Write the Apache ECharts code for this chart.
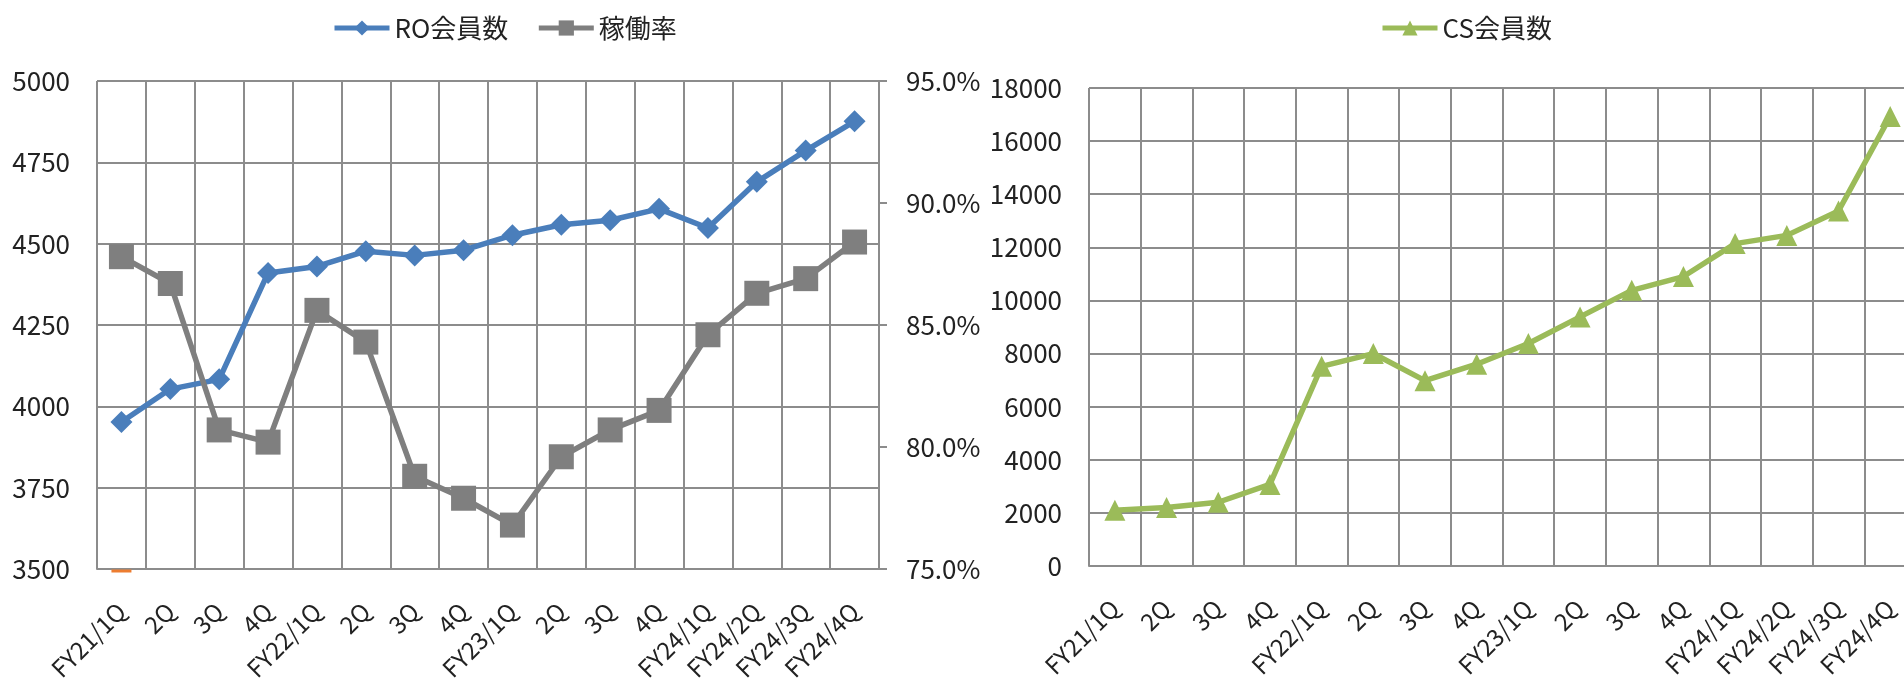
<!DOCTYPE html>
<html>
<head>
<meta charset="utf-8">
<script src="https://cdn.jsdelivr.net/npm/echarts@6/dist/echarts.min.js"></script>
<style>
  html, body { margin: 0; padding: 0; background: #fff; }
  #chart { width: 1904px; height: 680px; }
</style>
</head>
<body>
<div id="chart"></div>
<script>
const quarters = ['FY21/1Q', '2Q', '3Q', '4Q', 'FY22/1Q', '2Q', '3Q', '4Q', 'FY23/1Q', '2Q', '3Q', '4Q', 'FY24/1Q', 'FY24/2Q', 'FY24/3Q', 'FY24/4Q'];
const roMembers = [3952, 4053, 4083, 4410, 4430, 4477, 4464, 4480, 4526, 4558, 4572, 4607, 4548, 4690, 4786, 4876];
const utilization = [87.8, 86.7, 80.7, 80.2, 85.6, 84.3, 78.8, 77.9, 76.8, 79.6, 80.7, 81.5, 84.6, 86.3, 86.9, 88.4];
const csMembers = [2100, 2200, 2400, 3070, 7520, 8000, 6980, 7600, 8380, 9380, 10380, 10900, 12140, 12450, 13370, 16930];
// stray orange marker sitting on the baseline of the left chart
const strayMarker = [3500];

const font = "'Noto Sans CJK JP', 'Noto Sans', sans-serif";
const gridColor = '#8c8c8c';
const textColor = '#222';

const xAxisBase = {
  type: 'category',
  data: quarters,
  boundaryGap: true,
  axisTick: { show: false },
  axisLine: { lineStyle: { color: gridColor, width: 2 } },
  splitLine: { show: true, lineStyle: { color: gridColor, width: 2 } },
  axisLabel: { interval: 0, rotate: 45, margin: 38, fontSize: 24, fontFamily: font, color: textColor }
};

const legendBase = {
  top: 10,
  itemWidth: 55,
  itemHeight: 19,
  itemGap: 28,
  lineStyle: { width: 5 },
  textStyle: { fontSize: 26, fontFamily: font, color: textColor }
};

const plainNumber = v => String(v);

const chart = echarts.init(document.getElementById('chart'));

chart.setOption({
  animation: false,
  textStyle: { fontFamily: font, color: textColor },
  legend: [
    Object.assign({}, legendBase, { data: ['RO会員数', '稼働率'], left: 327 }),
    Object.assign({}, legendBase, { data: ['CS会員数'], left: 1375 })
  ],
  grid: [
    { left: 97, top: 81, width: 782, height: 488, outerBoundsMode: 'none', containLabel: false },
    { left: 1089, top: 88, width: 827, height: 478, outerBoundsMode: 'none', containLabel: false }
  ],
  xAxis: [
    Object.assign({}, xAxisBase, { gridIndex: 0 }),
    Object.assign({}, xAxisBase, { gridIndex: 1 })
  ],
  yAxis: [
    {
      type: 'value',
      gridIndex: 0,
      min: 3500,
      max: 5000,
      interval: 250,
      axisLine: { show: false },
      axisTick: { show: false },
      splitLine: { lineStyle: { color: gridColor, width: 2 } },
      axisLabel: { fontSize: 26, margin: 27, color: textColor, fontFamily: font, formatter: plainNumber }
    },
    {
      type: 'value',
      gridIndex: 0,
      position: 'right',
      min: 75,
      max: 95,
      interval: 5,
      axisLine: { show: true, lineStyle: { color: gridColor, width: 2 } },
      axisTick: { show: true, length: 8, lineStyle: { color: gridColor, width: 2 } },
      splitLine: { show: false },
      axisLabel: {
        fontSize: 26,
        margin: 27,
        color: textColor,
        fontFamily: font,
        formatter: v => v.toFixed(1) + '%'
      }
    },
    {
      type: 'value',
      gridIndex: 1,
      min: 0,
      max: 18000,
      interval: 2000,
      axisLine: { show: false },
      axisTick: { show: false },
      splitLine: { lineStyle: { color: gridColor, width: 2 } },
      axisLabel: { fontSize: 26, margin: 27, color: textColor, fontFamily: font, formatter: plainNumber }
    }
  ],
  series: [
    {
      name: 'RO会員数',
      type: 'line',
      xAxisIndex: 0,
      yAxisIndex: 0,
      data: roMembers,
      symbol: 'diamond',
      symbolSize: 22,
      color: '#4a7ebb',
      lineStyle: { width: 5.5 }
    },
    {
      name: '稼働率',
      type: 'line',
      xAxisIndex: 0,
      yAxisIndex: 1,
      data: utilization,
      symbol: 'rect',
      symbolSize: 25,
      color: '#7f7f7f',
      lineStyle: { width: 5.5 }
    },
    {
      name: 'stray',
      type: 'line',
      xAxisIndex: 0,
      yAxisIndex: 0,
      data: strayMarker,
      symbol: 'rect',
      symbolSize: [20, 3],
      symbolOffset: [0, 2],
      color: '#ed7d31',
      z: 5
    },
    {
      name: 'CS会員数',
      type: 'line',
      xAxisIndex: 1,
      yAxisIndex: 2,
      data: csMembers,
      symbol: 'triangle',
      symbolSize: 21,
      color: '#9bbb59',
      lineStyle: { width: 5.5 }
    }
  ]
});
</script>
</body>
</html>
